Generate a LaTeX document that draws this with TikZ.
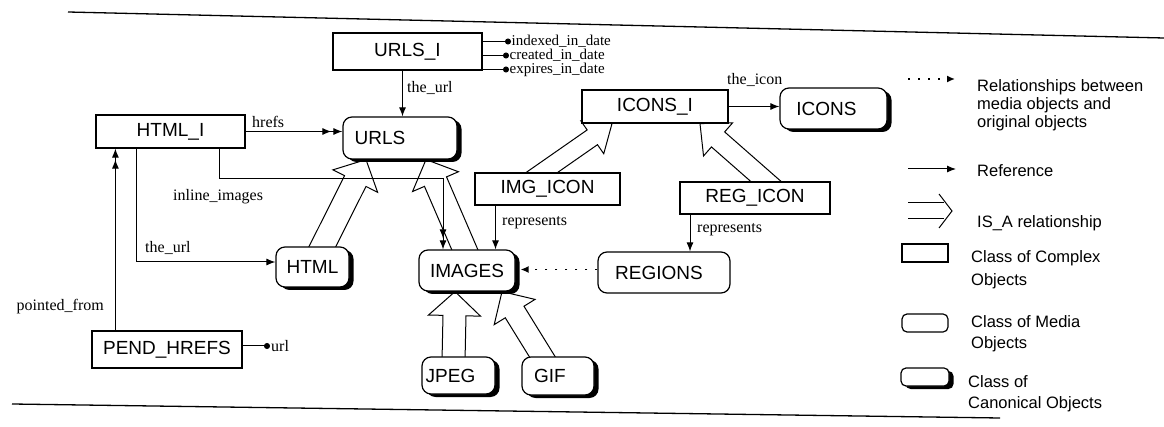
\documentclass[tikz,border=0pt]{standalone}
\usepackage{fontspec}
\setmainfont{Liberation Sans}
\newfontfamily\lblfont{Liberation Serif}
\usetikzlibrary{arrows.meta,calc,shadows,backgrounds}
\newcommand{\nodefont}{\fontsize{19}{22}\selectfont}
\newcommand{\isaarrow}[4]{%
  \coordinate (isaN) at ($(#2)!24pt!(#1)$);
  \draw[isastyle] ($(#1)!#3!90:(#2)$) -- ($(isaN)!#3!-90:(#1)$) -- ($(isaN)!#4!-90:(#1)$) -- (#2)
     -- ($(isaN)!#4!90:(#1)$) -- ($(isaN)!#3!90:(#1)$) -- ($(#1)!#3!-90:(#2)$);
}
\begin{document}
\begin{tikzpicture}[x=1pt,y=-1pt,
  complex/.style={draw, line width=1.2pt, fill=white, inner sep=0pt, font=\nodefont},
  media/.style={draw, line width=1.2pt, rounded corners=9pt, fill=white, inner sep=0pt, font=\nodefont},
  canon/.style={media, drop shadow={shadow xshift=4.5pt, shadow yshift=-3pt, fill=black, opacity=1}},
  ref/.style={line width=1pt, -{Latex[length=9pt,width=7pt]}},
  dbl/.style={line width=1pt, -{Latex[length=9pt,width=7pt,sep=2pt]Latex[length=9pt,width=7pt]}},
  attr/.style={line width=1pt, -{Circle[length=6pt]}},
  dotarrow/.style={line width=1.5pt, dash pattern=on 2pt off 8pt, -{Latex[length=8pt,width=7pt]}},
  lbl/.style={font=\lblfont\fontsize{16}{18}\selectfont, inner sep=1pt},
  attrlbl/.style={font=\lblfont\fontsize{15}{16}\selectfont, inner sep=0.5pt, anchor=west},
  leg/.style={align=left, inner sep=0pt, anchor=north west},
  isastyle/.style={line width=1pt, line join=miter}
]
\useasboundingbox (0,0) rectangle (1164,427);
% rules
\draw[line width=1.3pt] (68,12) -- (1164,38);
\draw[line width=1.3pt] (12,404) -- (1000,418);

% nodes
\node[complex, minimum width=149pt, minimum height=37pt] (urlsi) at (407.5,51.5) {URLS\_I};
\node[complex, minimum width=149pt, minimum height=33pt] (htmli) at (170.5,131.5) {HTML\_I};
\node[canon, minimum width=114pt, minimum height=42pt] (urls) at (400,138) {URLS\hspace*{40pt}};
\node[complex, minimum width=146pt, minimum height=33pt] (iconsi) at (655,106.5) {ICONS\_I};
\node[canon, minimum width=107pt, minimum height=41pt] (icons) at (833.5,108.5) {ICONS\hspace*{14pt}};
\node[complex, minimum width=145pt, minimum height=32pt] (imgicon) at (547.5,189) {IMG\_ICON};
\node[complex, minimum width=150pt, minimum height=32pt] (regicon) at (755,198) {REG\_ICON};
\node[canon, minimum width=73pt, minimum height=40pt] (html) at (312.5,267) {HTML};
\node[canon, minimum width=96pt, minimum height=41pt] (images) at (467,270.5) {IMAGES};
\node[media, minimum width=132pt, minimum height=41pt] (regions) at (664,272.5) {REGIONS\hspace*{10pt}};
\node[canon, minimum width=73pt, minimum height=37pt] (jpeg) at (458.5,375.5) {JPEG\hspace*{16pt}};
\node[canon, minimum width=72pt, minimum height=38pt] (gif) at (558,376) {GIF\hspace*{16pt}};
\node[complex, minimum width=150pt, minimum height=37pt] (pendhrefs) at (167,349.5) {PEND\_HREFS};

% IS_A arrows (behind the nodes)
\begin{scope}[on background layer]
  \coordinate (i1t) at ($(html.north)+(5,10)$);    \coordinate (i1h) at ($(urls.south)+(-34,0)$);
  \isaarrow{i1t}{i1h}{12pt}{25pt}
  \coordinate (i2t) at ($(images.north)+(2,10)$);  \coordinate (i2h) at ($(urls.south)+(26,0)$);
  \isaarrow{i2t}{i2h}{12pt}{25pt}
  \coordinate (i3t) at ($(jpeg.north)+(-5,5)$);    \coordinate (i3h) at ($(images.south)+(-12,0)$);
  \isaarrow{i3t}{i3h}{11.5pt}{26pt}
  \coordinate (i4t) at ($(gif.north)+(-11,8)$);    \coordinate (i4h) at ($(images.south)+(35,0)$);
  \isaarrow{i4t}{i4h}{11pt}{24pt}
  \coordinate (i5t) at ($(imgicon.north)+(-17,8)$); \coordinate (i5h) at ($(iconsi.south)+(-43,0)$);
  \isaarrow{i5t}{i5h}{9pt}{20pt}
  \coordinate (i6t) at ($(regicon.north)+(20,8)$); \coordinate (i6h) at ($(iconsi.south)+(45,0)$);
  \isaarrow{i6t}{i6h}{10pt}{22pt}
\end{scope}

% reference connectors
\draw[ref] ($(urlsi.south)+(-5,0)$) coordinate (tu) -- (tu |- urls.north);
\draw[dbl] (htmli.east) -- (htmli.east -| urls.west);
\draw[ref] (iconsi.east) -- (iconsi.east -| icons.west);
\draw[ref] ($(htmli.south west)+(41,0)$) |- ($(html.west)+(0,-5)$);
\draw[dbl] ($(htmli.south west)+(124,0)$) -- ++(0,30) -| ($(images.north)+(-24,0)$);
\draw[dbl] ($(pendhrefs.north west)+(24,0)$) coordinate (pf) -- (pf |- htmli.south);
\draw[ref] ($(imgicon.south)+(-52,0)$) coordinate (r1) -- (r1 |- images.north);
\draw[ref] ($(regicon.south)+(-65,0)$) coordinate (r2) -- (r2 |- regions.north);
\draw[dotarrow] ($(regions.west)+(0,-3)$) coordinate (dt) -- ($(dt -| images.east)+(5,0)$);

% labels
\node[lbl, anchor=west] (lblurl1) at (406,88) {the\_url};
\node[lbl, anchor=west] (lblhrefs) at (251,122) {hrefs};
\node[lbl, anchor=west] (lblinline) at (172,197) {inline\_images};
\node[lbl, anchor=west] (lblurl2) at (144,248) {the\_url};
\node[lbl, anchor=east] (lblpf) at (105,307) {pointed\_from};
\node[lbl, anchor=west] (lblrep1) at (501,223) {represents};
\node[lbl, anchor=west] (lblrep2) at (696,230) {represents};
\node[lbl, anchor=west] (lblicon) at (726,80) {the\_icon};

% attributes
\node[attrlbl] (a1) at (511,41.5) {indexed\_in\_date};
\node[attrlbl] (a2) at (509,55.5) {created\_in\_date};
\node[attrlbl] (a3) at (509,69.5) {expires\_in\_date};
\draw[attr] (urlsi.east |- a1.west) -- (a1.west);
\draw[attr] (urlsi.east |- a2.west) -- (a2.west);
\draw[attr] (urlsi.east |- a3.west) -- (a3.west);
\node[lbl, anchor=west] (urlattr) at (270,346) {url};
\draw[attr] (pendhrefs.east |- urlattr.west) -- (urlattr.west);

% legend
\coordinate (ld1) at (908,79); \coordinate (ld2) at (955,79);
\draw[dotarrow] (ld1) -- (ld2);
\node[leg, font=\fontsize{16.5}{18}\selectfont] (lt1) at (977,79) {Relationships between\\media objects and\\original objects};
\coordinate (lr1) at (908,169); \coordinate (lr2) at (956,169);
\draw[ref] (lr1) -- (lr2);
\node[leg, font=\fontsize{16.5}{18}\selectfont] (lt2) at (977,164) {Reference};
\coordinate (li1) at (908,203); \coordinate (li2) at (944,203);
\coordinate (li3) at (908,219); \coordinate (li4) at (944,219);
\draw[isastyle] (li1) -- (li2) (li3) -- (li4);
\draw[isastyle] (939,194) -- (952,211) -- (939,228);
\node[leg, font=\fontsize{16.5}{18}\selectfont] (lt3) at (977,215) {IS\_A relationship};
\node[complex, minimum width=46pt, minimum height=18pt] (lc) at (925,253) {};
\node[leg, font=\fontsize{16.5}{23}\selectfont] (lt4) at (971,250) {Class of Complex\\Objects};
\node[media, rounded corners=5pt, minimum width=46pt, minimum height=18pt] (lm) at (925,323) {};
\node[leg, font=\fontsize{16.5}{21}\selectfont] (lt5) at (971,315) {Class of Media\\Objects};
\node[canon, rounded corners=5pt, minimum width=48pt, minimum height=18pt] (lk) at (925,377) {};
\node[leg, font=\fontsize{16.5}{21}\selectfont] (lt6) at (968,375) {Class of\\Canonical Objects};
\end{tikzpicture}
\end{document}
